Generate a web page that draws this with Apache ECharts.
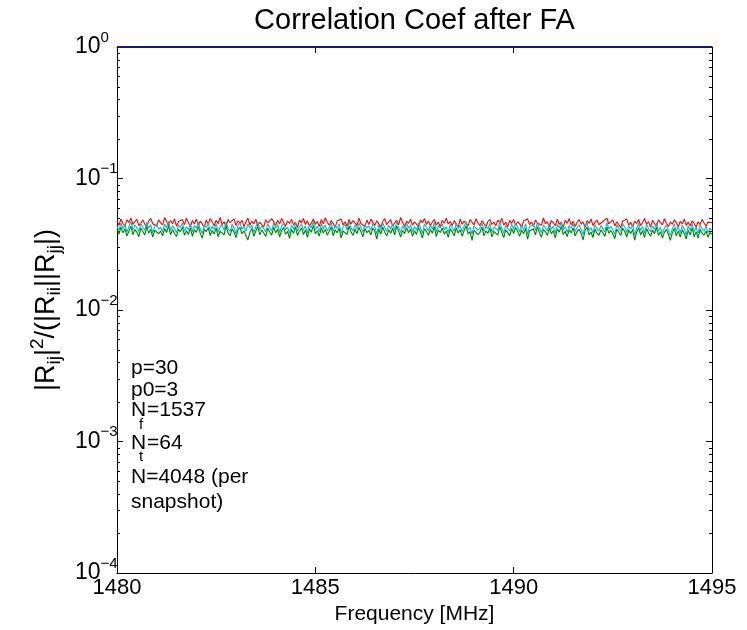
<!DOCTYPE html>
<html>
<head>
<meta charset="utf-8">
<script src="https://cdn.jsdelivr.net/npm/echarts@6/dist/echarts.min.js"></script>
<style>
  html, body { margin: 0; padding: 0; background: #fff; }
  #chart { width: 747px; height: 630px; }
</style>
</head>
<body>
<div id="chart"></div>
<script>
// frequency grid (MHz)
const freqStart = 1480;
const freqStep = 0.05;
const xTicks = [1480, 1485, 1490, 1495];

// diagonal term, always 1
const unityFreq = [1480, 1495];
const unity = [1, 1];

const red = [
  0.0478,0.0441,0.0492,0.0455,0.0433,0.0486,0.0462,0.0501,0.0447,0.0470,
  0.0489,0.0438,0.0459,0.0483,0.0450,0.0429,0.0476,0.0497,0.0453,0.0468,
  0.0436,0.0485,0.0460,0.0444,0.0504,0.0472,0.0440,0.0480,0.0452,0.0494,
  0.0434,0.0471,0.0457,0.0487,0.0446,0.0499,0.0463,0.0431,0.0479,0.0451,
  0.0491,0.0442,0.0474,0.0458,0.0427,0.0484,0.0449,0.0496,0.0466,0.0437,
  0.0481,0.0454,0.0507,0.0445,0.0469,0.0430,0.0488,0.0461,0.0448,0.0493,
  0.0439,0.0477,0.0456,0.0482,0.0432,0.0467,0.0500,0.0443,0.0473,0.0452,
  0.0490,0.0435,0.0464,0.0478,0.0428,0.0486,0.0459,0.0445,0.0495,0.0470,
  0.0440,0.0481,0.0450,0.0498,0.0462,0.0433,0.0475,0.0455,0.0489,0.0444,
  0.0466,0.0426,0.0484,0.0460,0.0496,0.0447,0.0478,0.0436,0.0458,0.0492,
  0.0448,0.0472,0.0431,0.0487,0.0453,0.0503,0.0465,0.0441,0.0480,0.0454,
  0.0425,0.0476,0.0461,0.0493,0.0443,0.0469,0.0434,0.0488,0.0451,0.0479,
  0.0460,0.0438,0.0499,0.0455,0.0471,0.0429,0.0484,0.0447,0.0491,0.0464,
  0.0440,0.0477,0.0452,0.0427,0.0473,0.0495,0.0445,0.0466,0.0486,0.0435,
  0.0459,0.0482,0.0444,0.0505,0.0463,0.0432,0.0474,0.0456,0.0490,0.0442,
  0.0468,0.0450,0.0428,0.0485,0.0460,0.0497,0.0446,0.0476,0.0437,0.0465,
  0.0489,0.0441,0.0467,0.0430,0.0481,0.0457,0.0500,0.0451,0.0470,0.0439,
  0.0478,0.0462,0.0426,0.0492,0.0448,0.0474,0.0456,0.0434,0.0486,0.0466,
  0.0443,0.0495,0.0459,0.0438,0.0477,0.0454,0.0424,0.0471,0.0490,0.0447,
  0.0467,0.0436,0.0483,0.0460,0.0498,0.0442,0.0465,0.0429,0.0480,0.0456,
  0.0487,0.0440,0.0469,0.0452,0.0427,0.0475,0.0461,0.0494,0.0446,0.0466,
  0.0433,0.0484,0.0458,0.0473,0.0441,0.0502,0.0453,0.0470,0.0428,0.0479,
  0.0461,0.0437,0.0490,0.0449,0.0467,0.0425,0.0482,0.0457,0.0496,0.0444,
  0.0472,0.0432,0.0463,0.0487,0.0450,0.0468,0.0426,0.0478,0.0455,0.0493,
  0.0439,0.0464,0.0483,0.0445,0.0430,0.0471,0.0458,0.0499,0.0451,0.0462,
  0.0485,0.0436,0.0469,0.0447,0.0423,0.0476,0.0460,0.0491,0.0441,0.0465,
  0.0429,0.0474,0.0455,0.0488,0.0438,0.0463,0.0496,0.0449,0.0470,0.0427,
  0.0481,0.0454,0.0435,0.0485,0.0461,0.0444,0.0494,0.0457,0.0432,0.0468,
  0.0448,0.0487,0.0462,0.0428,0.0473,0.0452,0.0492,0.0440,0.0464,0.0437,
  0.0477,0.0456,0.0424,0.0469,0.0446,0.0489,0.0459,0.0434,0.0466,0.0450,0.0462
];

const cyan = [
  0.0436,0.0402,0.0458,0.0415,0.0447,0.0391,0.0431,0.0469,0.0407,0.0443,
  0.0423,0.0396,0.0455,0.0428,0.0404,0.0463,0.0418,0.0446,0.0385,0.0433,
  0.0452,0.0410,0.0427,0.0394,0.0449,0.0421,0.0472,0.0401,0.0438,0.0414,
  0.0388,0.0445,0.0425,0.0461,0.0398,0.0430,0.0408,0.0454,0.0393,0.0440,
  0.0419,0.0466,0.0412,0.0383,0.0442,0.0426,0.0457,0.0399,0.0435,0.0409,
  0.0451,0.0390,0.0428,0.0444,0.0403,0.0470,0.0417,0.0395,0.0448,0.0422,
  0.0380,0.0439,0.0460,0.0411,0.0432,0.0397,0.0453,0.0420,0.0441,0.0387,
  0.0429,0.0467,0.0405,0.0437,0.0416,0.0392,0.0450,0.0424,0.0400,0.0462,
  0.0418,0.0445,0.0389,0.0434,0.0459,0.0408,0.0427,0.0381,0.0443,0.0413,
  0.0464,0.0398,0.0430,0.0452,0.0404,0.0437,0.0386,0.0448,0.0421,0.0474,
  0.0410,0.0433,0.0393,0.0456,0.0415,0.0442,0.0401,0.0426,0.0463,0.0396,
  0.0439,0.0417,0.0454,0.0384,0.0431,0.0447,0.0406,0.0468,0.0423,0.0399,
  0.0444,0.0412,0.0458,0.0425,0.0390,0.0450,0.0419,0.0436,0.0403,0.0455,
  0.0428,0.0378,0.0446,0.0408,0.0461,0.0422,0.0395,0.0440,0.0414,0.0451,
  0.0402,0.0469,0.0427,0.0388,0.0435,0.0411,0.0457,0.0418,0.0445,0.0394,
  0.0432,0.0406,0.0460,0.0423,0.0382,0.0449,0.0429,0.0400,0.0443,0.0413,
  0.0465,0.0391,0.0438,0.0420,0.0453,0.0407,0.0430,0.0386,0.0448,0.0424,
  0.0397,0.0457,0.0416,0.0441,0.0393,0.0434,0.0471,0.0409,0.0426,0.0379,
  0.0437,0.0450,0.0404,0.0421,0.0462,0.0395,0.0433,0.0414,0.0455,0.0389,
  0.0428,0.0443,0.0401,0.0466,0.0419,0.0384,0.0440,0.0425,0.0398,0.0449,
  0.0412,0.0459,0.0427,0.0392,0.0439,0.0410,0.0452,0.0376,0.0431,0.0420,
  0.0447,0.0403,0.0464,0.0418,0.0387,0.0442,0.0424,0.0399,0.0456,0.0411,
  0.0434,0.0383,0.0448,0.0422,0.0467,0.0405,0.0429,0.0390,0.0441,0.0417,
  0.0454,0.0396,0.0426,0.0445,0.0412,0.0374,0.0436,0.0460,0.0402,0.0423,
  0.0385,0.0447,0.0415,0.0400,0.0440,0.0428,0.0392,0.0463,0.0413,0.0435,
  0.0408,0.0377,0.0446,0.0421,0.0397,0.0453,0.0427,0.0388,0.0437,0.0411,
  0.0444,0.0372,0.0419,0.0457,0.0401,0.0432,0.0384,0.0450,0.0416,0.0393,
  0.0438,0.0410,0.0461,0.0398,0.0425,0.0381,0.0420,0.0443,0.0404,0.0368,
  0.0416,0.0452,0.0395,0.0430,0.0386,0.0441,0.0412,0.0373,0.0437,0.0402,
  0.0455,0.0390,0.0424,0.0380,0.0446,0.0414,0.0399,0.0433,0.0387,0.0419,0.0406
];

const green = [
  0.0404,0.0378,0.0427,0.0386,0.0415,0.0365,0.0398,0.0434,0.0375,0.0409,
  0.0391,0.0360,0.0421,0.0396,0.0372,0.0430,0.0384,0.0412,0.0358,0.0405,
  0.0418,0.0380,0.0399,0.0366,0.0416,0.0388,0.0438,0.0374,0.0407,0.0383,
  0.0362,0.0413,0.0393,0.0428,0.0370,0.0401,0.0377,0.0420,0.0364,0.0408,
  0.0389,0.0432,0.0381,0.0352,0.0410,0.0394,0.0424,0.0369,0.0403,0.0379,
  0.0419,0.0361,0.0397,0.0411,0.0373,0.0436,0.0386,0.0367,0.0414,0.0392,
  0.0355,0.0406,0.0425,0.0380,0.0400,0.0368,0.0341,0.0390,0.0417,0.0363,
  0.0398,0.0431,0.0374,0.0405,0.0385,0.0362,0.0418,0.0393,0.0371,0.0427,
  0.0387,0.0412,0.0359,0.0402,0.0423,0.0377,0.0396,0.0350,0.0410,0.0382,
  0.0429,0.0368,0.0399,0.0419,0.0375,0.0404,0.0357,0.0414,0.0390,0.0440,
  0.0380,0.0401,0.0364,0.0422,0.0385,0.0409,0.0371,0.0395,0.0428,0.0366,
  0.0407,0.0387,0.0420,0.0354,0.0399,0.0413,0.0376,0.0433,0.0392,0.0369,
  0.0411,0.0382,0.0424,0.0394,0.0361,0.0416,0.0388,0.0403,0.0373,0.0421,
  0.0397,0.0346,0.0413,0.0378,0.0426,0.0391,0.0365,0.0408,0.0383,0.0418,
  0.0372,0.0434,0.0396,0.0358,0.0402,0.0381,0.0422,0.0387,0.0412,0.0364,
  0.0400,0.0376,0.0425,0.0392,0.0353,0.0415,0.0398,0.0370,0.0409,0.0384,
  0.0430,0.0362,0.0405,0.0389,0.0419,0.0377,0.0399,0.0357,0.0414,0.0393,
  0.0367,0.0422,0.0385,0.0408,0.0363,0.0401,0.0437,0.0379,0.0395,0.0339,
  0.0404,0.0416,0.0374,0.0390,0.0427,0.0366,0.0400,0.0383,0.0420,0.0360,
  0.0396,0.0410,0.0371,0.0431,0.0388,0.0355,0.0407,0.0393,0.0368,0.0415,
  0.0382,0.0424,0.0396,0.0363,0.0406,0.0380,0.0418,0.0345,0.0399,0.0389,
  0.0413,0.0373,0.0429,0.0387,0.0358,0.0409,0.0393,0.0369,0.0421,0.0381,
  0.0402,0.0354,0.0414,0.0391,0.0432,0.0375,0.0397,0.0361,0.0408,0.0386,
  0.0420,0.0367,0.0395,0.0411,0.0382,0.0342,0.0404,0.0426,0.0372,0.0392,
  0.0356,0.0413,0.0384,0.0370,0.0407,0.0397,0.0363,0.0428,0.0383,0.0403,
  0.0378,0.0349,0.0412,0.0390,0.0368,0.0419,0.0395,0.0359,0.0404,0.0381,
  0.0410,0.0340,0.0388,0.0423,0.0372,0.0400,0.0356,0.0416,0.0385,0.0364,
  0.0405,0.0380,0.0426,0.0369,0.0394,0.0353,0.0389,0.0410,0.0375,0.0338,
  0.0386,0.0418,0.0366,0.0398,0.0358,0.0408,0.0382,0.0347,0.0403,0.0373,
  0.0421,0.0361,0.0393,0.0352,0.0412,0.0384,0.0370,0.0400,0.0357,0.0389,0.0376
];

const decades = [0.0001, 0.001, 0.01, 0.1];
const minorSteps = [2, 3, 4, 5, 6, 7, 8, 9];

const FONT = '"Liberation Sans", Arial, Helvetica, sans-serif';

const nPts = Math.max(red.length, cyan.length, green.length);
const freq = Array.from({ length: nPts }, (_, i) => +(freqStart + i * freqStep).toFixed(3));
const pairs = (xs, ys) => ys.map((y, i) => [xs[i], y]);

let minorTicks = [];
decades.forEach(d => minorSteps.forEach(m => minorTicks.push([freqStart, +(d * m).toPrecision(3)])));

const chart = echarts.init(document.getElementById('chart'));

function expLabel(v) {
  const e = Math.round(Math.log10(v));
  return '{b|10}{e|' + String(e).replace('-', '\u2212') + '}';
}

const yCommon = {
  type: 'log',
  logBase: 10,
  min: 0.0001,
  max: 1,
  splitLine: { show: false },
  axisLine: { show: true, onZero: false, lineStyle: { color: '#000', width: 1 } },
  axisTick: { show: true, inside: true, length: 6, lineStyle: { color: '#000' } }
};

const xCommon = {
  type: 'value',
  min: 1480,
  max: 1495,
  interval: 5,
  splitLine: { show: false },
  axisLine: { show: true, onZero: false, lineStyle: { color: '#000', width: 1 } },
  axisTick: { show: true, inside: true, length: 6, lineStyle: { color: '#000' } }
};

const lineSeries = (name, color, data) => ({
  name: name,
  type: 'line',
  data: data,
  showSymbol: false,
  symbol: 'none',
  lineStyle: { color: color, width: 1.1 },
  itemStyle: { color: color },
  animation: false
});

chart.setOption({
  animation: false,
  backgroundColor: '#fff',
  grid: { left: 117, right: 35, top: 47, bottom: 54, containLabel: false },
  xAxis: [
    Object.assign({}, xCommon, {
      position: 'bottom',
      axisLabel: {
        color: '#000', fontSize: 22, fontFamily: FONT, margin: 4,
        formatter: v => xTicks.includes(v) ? String(v) : ''
      },
      name: 'Frequency [MHz]',
      nameLocation: 'middle',
      nameGap: 31,
      nameTextStyle: { color: '#000', fontSize: 21, fontFamily: FONT }
    }),
    Object.assign({}, xCommon, { position: 'top', axisLabel: { show: false } })
  ],
  yAxis: [
    Object.assign({}, yCommon, {
      position: 'left',
      axisLabel: {
        margin: 42,
        align: 'left',
        formatter: expLabel,
        rich: {
          b: { fontSize: 23, fontFamily: FONT, color: '#000', lineHeight: 34 },
          e: { fontSize: 15, fontFamily: FONT, color: '#000', lineHeight: 15, verticalAlign: 'top' }
        }
      },
      name: '{n||R}{s|ij}{n||}{p|2}{n|/(|R}{s|ii}{n|||R}{s|jj}{n||)}',
      nameLocation: 'middle',
      nameRotate: 90,
      nameGap: 46,
      nameTextStyle: {
        rich: {
          n: { fontSize: 27, fontFamily: FONT, color: '#000', lineHeight: 36 },
          s: { fontSize: 19, fontFamily: FONT, color: '#000', lineHeight: 19, verticalAlign: 'bottom' },
          p: { fontSize: 19, fontFamily: FONT, color: '#000', lineHeight: 19, verticalAlign: 'top' }
        }
      }
    }),
    Object.assign({}, yCommon, { position: 'right', axisLabel: { show: false } })
  ],
  graphic: [
    { type: 'text', x: 414.5, y: 21, style: { text: 'Correlation Coef after FA', fontSize: 29, fontFamily: FONT, fill: '#000', align: 'center', verticalAlign: 'middle' } },
    { type: 'text', x: 131, y: 368, style: { text: 'p=30', fontSize: 21, fontFamily: FONT, fill: '#000', verticalAlign: 'middle' } },
    { type: 'text', x: 131, y: 390, style: { text: 'p0=3', fontSize: 21, fontFamily: FONT, fill: '#000', verticalAlign: 'middle' } },
    { type: 'text', x: 131, y: 410, style: { text: 'N', fontSize: 21, fontFamily: FONT, fill: '#000', verticalAlign: 'middle' } },
    { type: 'text', x: 139, y: 425, style: { text: 'f', fontSize: 15, fontFamily: FONT, fill: '#000', verticalAlign: 'middle' } },
    { type: 'text', x: 147, y: 410, style: { text: '=1537', fontSize: 21, fontFamily: FONT, fill: '#000', verticalAlign: 'middle' } },
    { type: 'text', x: 131, y: 443, style: { text: 'N', fontSize: 21, fontFamily: FONT, fill: '#000', verticalAlign: 'middle' } },
    { type: 'text', x: 139, y: 457, style: { text: 't', fontSize: 15, fontFamily: FONT, fill: '#000', verticalAlign: 'middle' } },
    { type: 'text', x: 147, y: 443, style: { text: '=64', fontSize: 21, fontFamily: FONT, fill: '#000', verticalAlign: 'middle' } },
    { type: 'text', x: 131, y: 477, style: { text: 'N=4048 (per', fontSize: 21, fontFamily: FONT, fill: '#000', verticalAlign: 'middle' } },
    { type: 'text', x: 131, y: 502, style: { text: 'snapshot)', fontSize: 21, fontFamily: FONT, fill: '#000', verticalAlign: 'middle' } }
  ],
  series: [
    // minor log ticks on both y sides
    {
      type: 'custom',
      silent: true,
      xAxisIndex: 0,
      yAxisIndex: 0,
      data: minorTicks,
      clip: false,
      renderItem: function (params, api) {
        const p = api.coord([api.value(0), api.value(1)]);
        const cs = params.coordSys;
        const y = Math.round(p[1]) + 0.5;
        return {
          type: 'group',
          children: [
            { type: 'line', shape: { x1: cs.x, y1: y, x2: cs.x + 3, y2: y }, style: { stroke: '#000', lineWidth: 1 } },
            { type: 'line', shape: { x1: cs.x + cs.width - 3, y1: y, x2: cs.x + cs.width, y2: y }, style: { stroke: '#000', lineWidth: 1 } }
          ]
        };
      },
      animation: false,
      z: 3
    },
    Object.assign(lineSeries('unity', '#14148c', pairs(unityFreq, unity)), { clip: false, lineStyle: { color: '#14148c', width: 2 }, z: 4 }),
    lineSeries('green', '#008000', pairs(freq, green)),
    lineSeries('red', '#ff0000', pairs(freq, red)),
    lineSeries('cyan', '#00bfbf', pairs(freq, cyan))
  ]
});
</script>
</body>
</html>
